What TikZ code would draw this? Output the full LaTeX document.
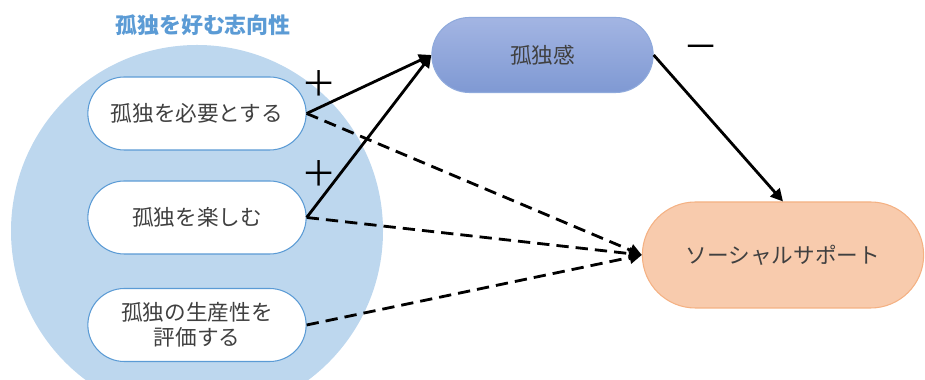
\documentclass[tikz,border=0pt]{standalone}
\usepackage{fontspec}
\setmainfont{Noto Sans CJK JP}
\usetikzlibrary{arrows.meta, positioning, shapes.misc}
\definecolor{groupFill}{HTML}{BDD7EE}
\definecolor{groupLine}{HTML}{5B9BD5}
\definecolor{titleBlue}{HTML}{5B9BD5}
\definecolor{lonelyTop}{HTML}{A3B5E3}
\definecolor{lonelyBottom}{HTML}{7F99D3}
\definecolor{lonelyLine}{HTML}{8FAADC}
\definecolor{supportFill}{HTML}{F8CBAD}
\definecolor{supportLine}{HTML}{F4B183}
\definecolor{textDark}{HTML}{404040}
\tikzset{
  pref/.style={rounded rectangle, draw=groupLine, line width=0.6pt, fill=white,
    minimum width=4.6cm, minimum height=1.46cm, align=center,
    font=\fontsize{12.3}{14.5}\selectfont\color{textDark}},
  sign/.style={font=\fontsize{20}{20}\selectfont},
  effect/.style={line width=1.6pt, -{Triangle[length=7pt, width=7pt]}},
  weak/.style={effect, dash pattern=on 7pt off 4pt}
}

\begin{document}
\begin{tikzpicture}
    \clip (0, 0) rectangle (18.5, 7.6);

    % orientation group
    \node[circle, fill=groupFill, minimum size=7.44cm] (grp) at (3.94, 2.98) {};
    \node[font=\fontsize{12.5}{14}\selectfont\bfseries\color{titleBlue}] (title) at (4.06, 7.1)
      {孤独を好む志向性};

    \node[pref] (need) at (3.94, 5.33) {孤独を必要とする};
    \node[pref] (enjoy) at (3.94, 3.25) {孤独を楽しむ};
    \node[pref] (value) at (3.94, 1.1) {孤独の生産性を\\評価する};

    % outcomes
    \node[rounded rectangle, draw=lonelyLine, line width=0.6pt,
      top color=lonelyTop, bottom color=lonelyBottom,
      minimum width=4.66cm, minimum height=1.5cm,
      font=\fontsize{12.3}{14}\selectfont\color{textDark}] (lonely) at (10.85, 6.5) {孤独感};
    \node[rounded rectangle, draw=supportLine, line width=0.6pt, fill=supportFill,
      minimum width=5.86cm, minimum height=2.12cm,
      font=\fontsize{12.3}{14}\selectfont\color{textDark}] (support) at (15.66, 2.5) {ソーシャルサポート};

    \node[sign] (plusA) at (6.38, 5.92) {＋};
    \node[sign] (plusB) at (6.38, 4.12) {＋};
    \node[sign] (minus) at (14.02, 6.56) {－};

    \draw[effect] (need.east) -- (lonely.west);
    \draw[effect] (enjoy.east) -- (lonely.west);
    \draw[effect] (lonely.east) -- (support.north);

    \draw[weak] (need.east) -- (support.west);
    \draw[weak] (enjoy.east) -- (support.west);
    \draw[weak] (value.east) -- (support.west);
  \end{tikzpicture}
\end{document}
